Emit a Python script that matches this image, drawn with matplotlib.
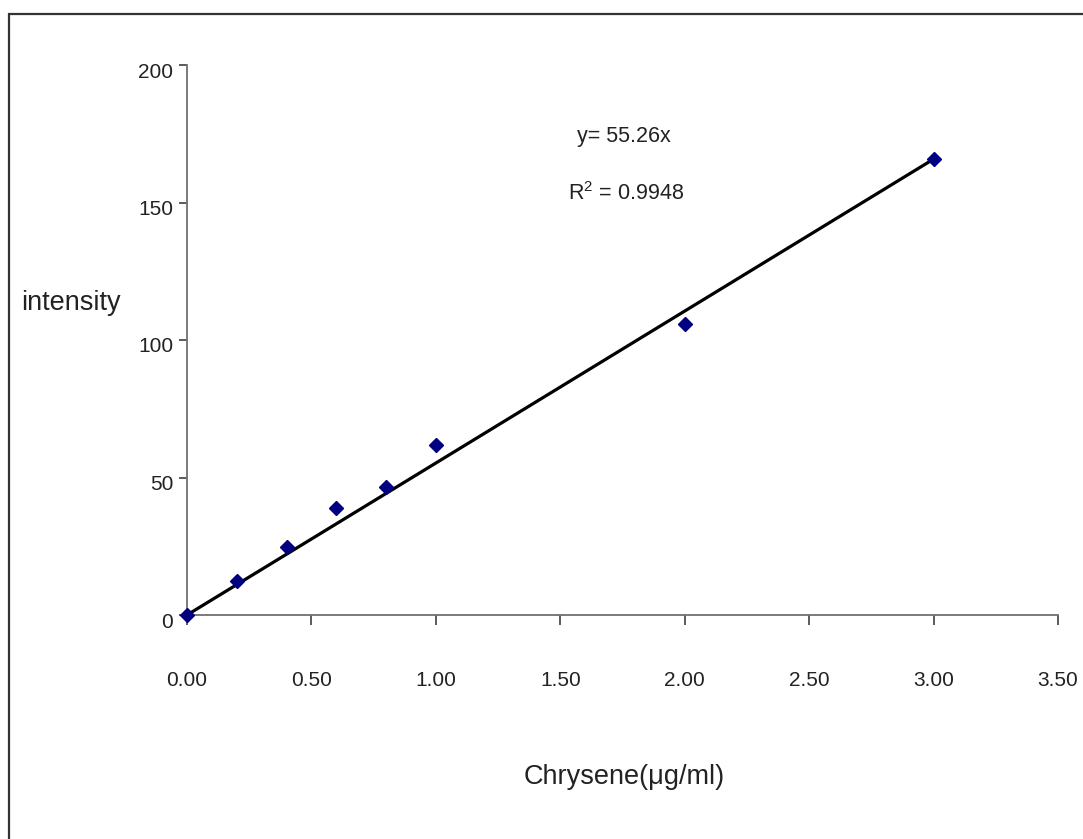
import matplotlib
matplotlib.use("Agg")
import matplotlib.pyplot as plt
import matplotlib.transforms as mtransforms
from matplotlib.patches import Rectangle
from matplotlib.ticker import FormatStrFormatter

plt.rcParams['font.family'] = ['Liberation Sans', 'DejaVu Sans']
plt.rcParams['mathtext.fontset'] = 'custom'
plt.rcParams['mathtext.rm'] = 'Liberation Sans'

# calibration data
conc = [0, 0.2, 0.4, 0.6, 0.8, 1.0, 2.0, 3.0]
intensity = [0, 12.4, 24.7, 38.8, 46.5, 61.9, 105.7, 165.7]
slope = 55.26
r2 = 0.9948
x_ticks = [0, 0.5, 1.0, 1.5, 2.0, 2.5, 3.0, 3.5]
y_ticks = [0, 50, 100, 150, 200]

W, H = 1083, 839
fig = plt.figure(figsize=(W / 100, H / 100), dpi=100)
ax = fig.add_axes([187 / W, 1 - 615 / H, (1058 - 187) / W, (615 - 65) / H])

fit_x = [conc[0], conc[-1]]
fit_y = [slope * v for v in fit_x]
ax.plot(fit_x, fit_y, color='black', lw=2.3, zorder=2)
ax.plot(conc, intensity, 'D', color='#000080', ms=7, clip_on=False, zorder=3)

ax.set_xlim(0, 3.5)
ax.set_ylim(0, 200)
ax.set_xticks(x_ticks)
ax.set_yticks(y_ticks)
ax.xaxis.set_major_formatter(FormatStrFormatter('%.2f'))

for s in ['top', 'right']:
    ax.spines[s].set_visible(False)
for s in ['left', 'bottom']:
    ax.spines[s].set_color('#707070')
    ax.spines[s].set_linewidth(1.3)

ax.tick_params(axis='x', direction='out', length=7.5, width=1.2, colors='#404040',
               pad=33, labelsize=15, labelcolor='#222222')
ax.tick_params(axis='y', direction='out', length=6, width=1.2, colors='#404040',
               pad=4, labelsize=15, labelcolor='#222222')

# y tick labels sit slightly below their ticks in the original
offset = mtransforms.ScaledTranslation(0, -5 / 100, fig.dpi_scale_trans)
for lab in ax.get_yticklabels():
    lab.set_transform(lab.get_transform() + offset)

ax.text(0.448, 0.87, 'y= 55.26x', transform=ax.transAxes, fontsize=15.5,
        color='#222222', va='center', ha='left')
ax.text(0.437, 0.767, 'R$^{2}$ = %.4f' % r2, transform=ax.transAxes, fontsize=15.5,
        color='#222222', va='center', ha='left')

fig.text(21 / W, 1 - 303 / H, 'intensity', fontsize=19.5, color='#222222',
         ha='left', va='center')
fig.text(624 / W, 1 - 777 / H, 'Chrysene(μg/ml)', fontsize=19.5, color='#222222',
         ha='center', va='center')

# outer chart-area frame
fig.patches.append(Rectangle((9 / W, -0.1), 1.2, 1.1 - 14 / H, transform=fig.transFigure,
                             fill=False, edgecolor='#333333', lw=1.6))

fig.savefig('out.png', dpi=100)
